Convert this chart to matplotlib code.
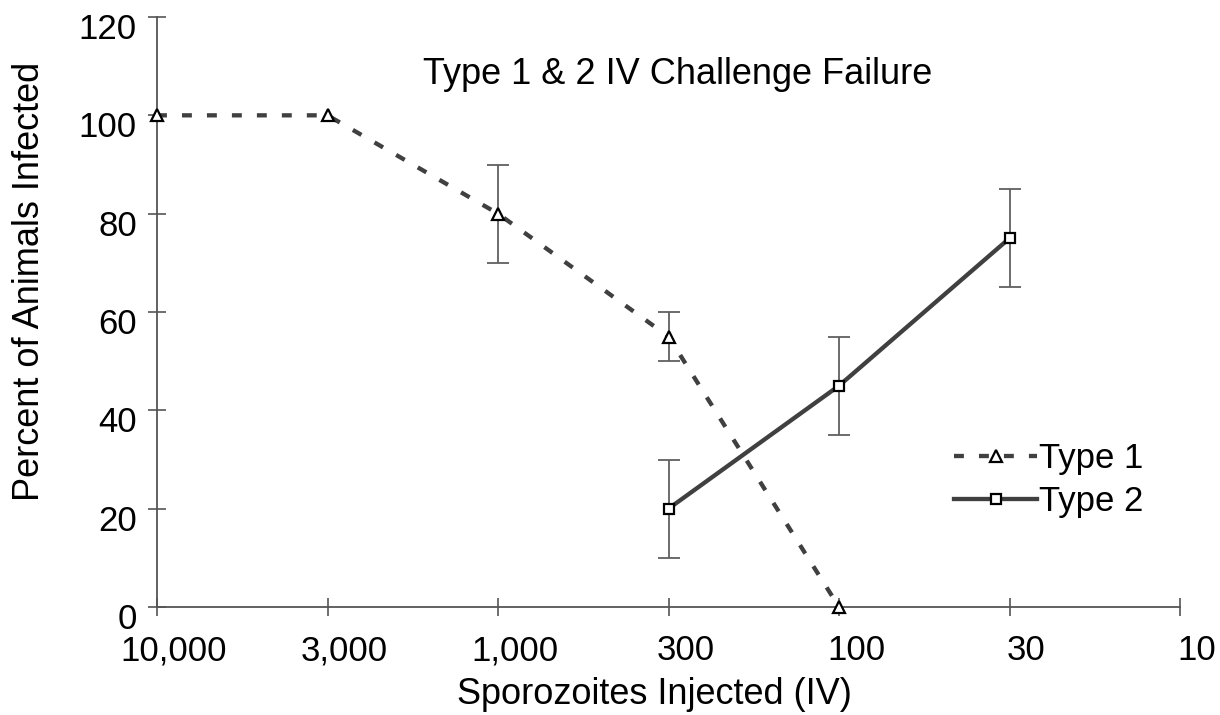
import matplotlib
matplotlib.use("Agg")
import matplotlib.pyplot as plt
import matplotlib.transforms as mtransforms

plt.rcParams['font.family'] = ['Liberation Sans', 'DejaVu Sans']

x_labels = ["10,000", "3,000", "1,000", "300", "100", "30", "10"]
type1_pos = [0, 1, 2, 3, 4]
type1_vals = [100, 100, 80, 55, 0]
type1_err = [0, 0, 10, 5, 0]
type2_pos = [3, 4, 5]
type2_vals = [20, 45, 75]
type2_err = [10, 10, 10]
y_ticks = [0, 20, 40, 60, 80, 100, 120]

fig = plt.figure(figsize=(12.2, 7.15), dpi=100)
ax = fig.add_axes([157/1220, 1-607/715, (1180-157)/1220, (607-17)/715])

line_col = '#404040'
err_col = '#606060'

# error bars
eb1 = [(p, v, e) for p, v, e in zip(type1_pos, type1_vals, type1_err) if e > 0]
ax.errorbar([a for a, _, _ in eb1], [b for _, b, _ in eb1], yerr=[c for _, _, c in eb1],
            fmt='none', ecolor=err_col, elinewidth=1.3, capsize=8, capthick=1.3, zorder=2)
ax.errorbar(type2_pos, type2_vals, yerr=type2_err,
            fmt='none', ecolor=err_col, elinewidth=1.3, capsize=8, capthick=1.3, zorder=2)

ax.plot(type1_pos, type1_vals, color=line_col, lw=3.1, dashes=(2.3, 3.5),
        marker='^', ms=8, mfc='white', mec='black', mew=1.6, label='Type 1', zorder=3,
        clip_on=False)
ax.plot(type2_pos, type2_vals, color=line_col, lw=3.1, ls='-',
        marker='s', ms=7, mfc='white', mec='black', mew=1.6, label='Type 2', zorder=3,
        clip_on=False)

ax.set_xlim(0, 6)
ax.set_ylim(0, 120)
ax.set_xticks(range(len(x_labels)))
ax.set_xticklabels(x_labels, fontsize=25)
ax.set_yticks(y_ticks)
ax.set_yticklabels([str(v) for v in y_ticks], fontsize=25)

for s in ['top', 'right']:
    ax.spines[s].set_visible(False)
for s in ['left', 'bottom']:
    ax.spines[s].set_color('#555555')
    ax.spines[s].set_linewidth(1.3)
ax.tick_params(axis='both', direction='inout', length=13, width=1.2, color='#555555')
ax.tick_params(axis='x', pad=13)
ax.tick_params(axis='y', pad=8)

# shift tick labels like the reference
for lbl in ax.get_xticklabels():
    lbl.set_transform(lbl.get_transform() + mtransforms.ScaledTranslation(17/100, 0, fig.dpi_scale_trans))
for lbl in ax.get_yticklabels():
    lbl.set_transform(lbl.get_transform() + mtransforms.ScaledTranslation(0, -9/100, fig.dpi_scale_trans))

fig.text(654/1220, 1-694/715, "Sporozoites Injected (IV)", fontsize=26, ha='center', va='center')
fig.text(30/1220, 1-281/715, "Percent of Animals Infected", fontsize=26, ha='center', va='center',
         rotation=90)
fig.text(678/1220, 1-75/715, "Type 1 & 2 IV Challenge Failure", fontsize=26, ha='center', va='center')

leg = ax.legend(loc='center left', bbox_to_anchor=(954/1220, 1-480/715),
                bbox_transform=fig.transFigure, frameon=False, fontsize=25,
                handlelength=2.4, handletextpad=0.05, labelspacing=0.3, borderpad=0,
                borderaxespad=0)

fig.savefig("out.png", dpi=100)
